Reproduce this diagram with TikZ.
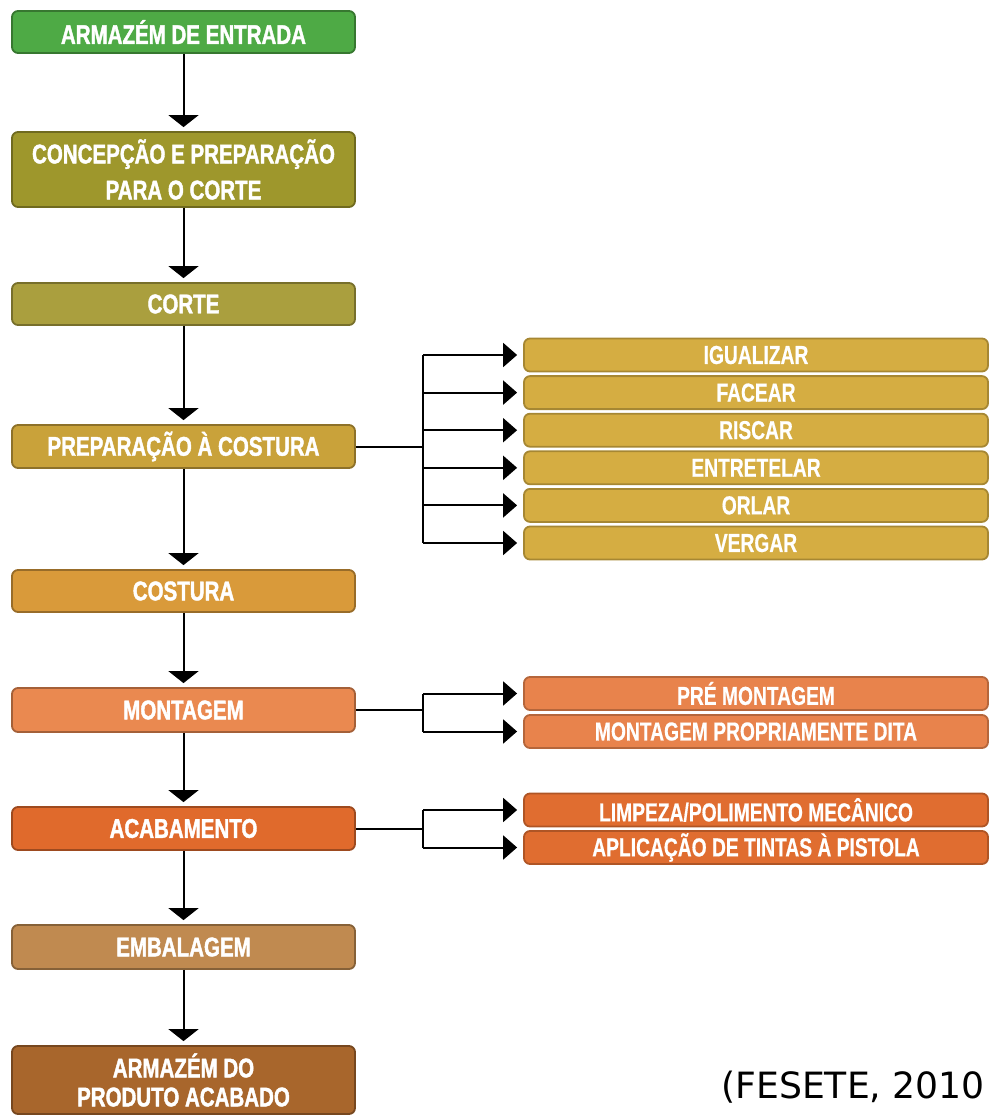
\documentclass[tikz,border=0pt]{standalone}
\usepackage{fontspec}
\usetikzlibrary{arrows.meta}
\newfontfamily\cond{Liberation Sans}[FakeStretch=0.76,FakeBold=1.5]
\newfontfamily\condl{Liberation Sans}[FakeStretch=0.74,FakeBold=0.5]
\newfontfamily\cita{DejaVu Sans}
\definecolor{cGreen}{HTML}{4EAA45}
\definecolor{cOlive}{HTML}{9E972C}
\definecolor{cCorte}{HTML}{AA9F3E}
\definecolor{cPrep}{HTML}{C9A23A}
\definecolor{cSubPrep}{HTML}{D5AD42}
\definecolor{cCost}{HTML}{D99A3A}
\definecolor{cMont}{HTML}{EA8950}
\definecolor{cSubMont}{HTML}{E8834C}
\definecolor{cAcab}{HTML}{E06A2C}
\definecolor{cSubAcab}{HTML}{E06D30}
\definecolor{cEmb}{HTML}{C08A50}
\definecolor{cArm}{HTML}{A8662C}
\tikzset{
  boxbase/.style={rounded corners=6pt, line width=1.8pt, text=white, align=center, inner sep=0pt},
  mbox/.style={boxbase, fill=#1, draw=#1!70!black, minimum width=343pt,
    font=\cond\bfseries\fontsize{27}{30}\selectfont},
  sbox/.style={boxbase, fill=#1, draw=#1!78!black, minimum width=464pt, minimum height=33pt,
    font=\condl\bfseries\fontsize{26}{28}\selectfont},
  varrow/.style={line width=2pt, -{Triangle[width=30pt,length=12pt]}, shorten >=4pt},
  harrow/.style={line width=2pt, -{Triangle[width=24pt,length=14pt]}, shorten >=6pt},
  conn/.style={line width=2pt}
}
\begin{document}
\begin{tikzpicture}[x=1pt,y=-1pt]
\path[use as bounding box] (0,0) rectangle (991,1118);
\clip (0,0) rectangle (991,1118);

% main chain
\node[mbox=cGreen, minimum height=42pt] (n1) at (183.5,32) {ARMAZÉM DE ENTRADA};
\node[mbox=cOlive, minimum height=75pt, font=\cond\bfseries\fontsize{27}{36}\selectfont] (n2) at (183.5,169.5) {CONCEPÇÃO E PREPARAÇÃO\\PARA O CORTE};
\node[mbox=cCorte, minimum height=42pt] (n3) at (183.5,304) {CORTE};
\node[mbox=cPrep, minimum height=43pt] (n4) at (183.5,446.5) {PREPARAÇÃO À COSTURA};
\node[mbox=cCost, minimum height=42pt] (n5) at (183.5,591) {COSTURA};
\node[mbox=cMont, minimum height=44pt] (n6) at (183.5,710) {MONTAGEM};
\node[mbox=cAcab, minimum height=43pt] (n7) at (183.5,828.5) {ACABAMENTO};
\node[mbox=cEmb, minimum height=44pt] (n8) at (183.5,947) {EMBALAGEM};
\node[mbox=cArm, minimum height=68pt, font=\cond\bfseries\fontsize{27}{29}\selectfont] (n9) at (183.5,1080) {ARMAZÉM DO\\PRODUTO ACABADO};

\draw[varrow] (n1.south) -- (n2.north);
\draw[varrow] (n2.south) -- (n3.north);
\draw[varrow] (n3.south) -- (n4.north);
\draw[varrow] (n4.south) -- (n5.north);
\draw[varrow] (n5.south) -- (n6.north);
\draw[varrow] (n6.south) -- (n7.north);
\draw[varrow] (n7.south) -- (n8.north);
\draw[varrow] (n8.south) -- (n9.north);

% sub boxes: preparação
\node[sbox=cSubPrep] (p1) at (756,355) {IGUALIZAR};
\node[sbox=cSubPrep] (p2) at (756,392.6) {FACEAR};
\node[sbox=cSubPrep] (p3) at (756,430.2) {RISCAR};
\node[sbox=cSubPrep] (p4) at (756,467.8) {ENTRETELAR};
\node[sbox=cSubPrep] (p5) at (756,505.4) {ORLAR};
\node[sbox=cSubPrep] (p6) at (756,543) {VERGAR};

\coordinate (bp) at (423,446.5);
\draw[conn] (n4.east) -- (bp);
\draw[conn] (bp |- p1.west) -- (bp |- p6.west);
\foreach \s in {p1,p2,p3,p4,p5,p6}
  \draw[harrow] (bp |- \s.west) -- (\s.west);

% sub boxes: montagem
\node[sbox=cSubMont] (m1) at (756,693.5) {PRÉ MONTAGEM};
\node[sbox=cSubMont] (m2) at (756,731.5) {MONTAGEM PROPRIAMENTE DITA};
\coordinate (bm) at (423,710);
\draw[conn] (n6.east) -- (bm);
\draw[conn] (bm |- m1.west) -- (bm |- m2.west);
\foreach \s in {m1,m2}
  \draw[harrow] (bm |- \s.west) -- (\s.west);

% sub boxes: acabamento
\node[sbox=cSubAcab] (a1) at (756,810) {LIMPEZA/POLIMENTO MECÂNICO};
\node[sbox=cSubAcab] (a2) at (756,847.5) {APLICAÇÃO DE TINTAS À PISTOLA};
\coordinate (ba) at (423,828.5);
\draw[conn] (n7.east) -- (ba);
\draw[conn] (ba |- a1.west) -- (ba |- a2.west);
\foreach \s in {a1,a2}
  \draw[harrow] (ba |- \s.west) -- (\s.west);

% citation
\node[anchor=base west, inner sep=0pt, font=\cita\fontsize{36.2}{36.2}\selectfont] (cit) at (721,1098) {(FESETE, 2010};
\end{tikzpicture}
\end{document}
